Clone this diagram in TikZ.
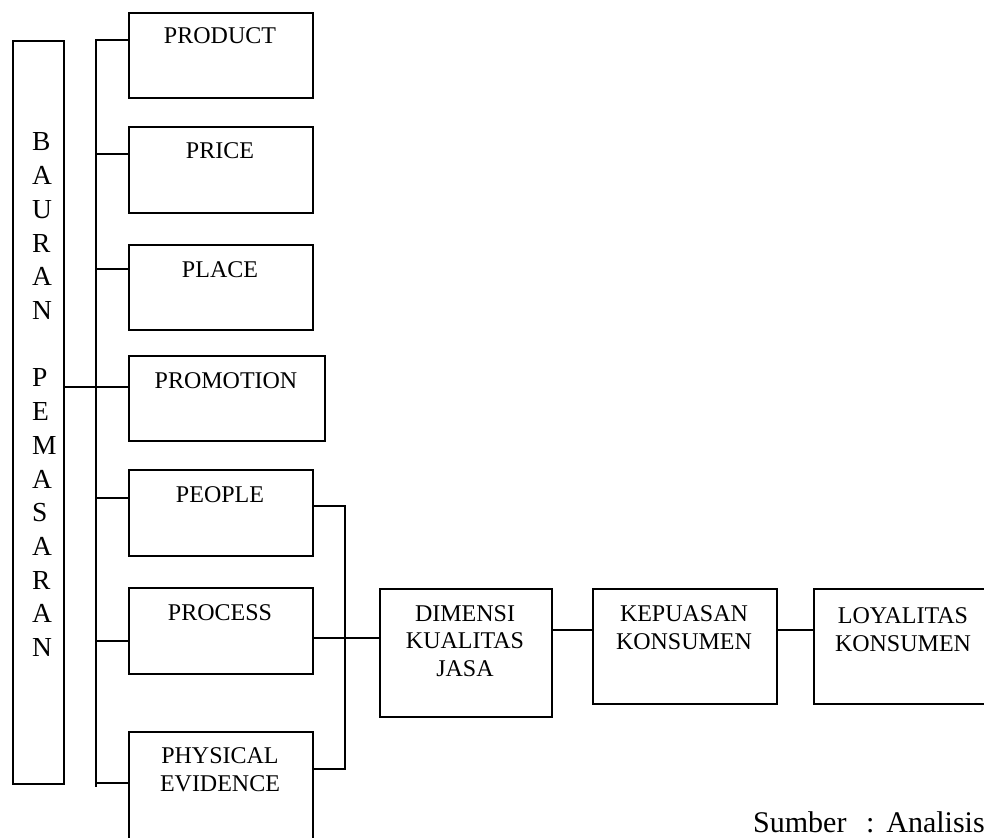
\documentclass[tikz,border=0pt]{standalone}
\usepackage{fontspec}
\setmainfont{Liberation Serif}
\tikzset{
  box/.style={draw, line width=1.7pt, inner sep=0pt, anchor=north west},
  lab/.style={font=\fontsize{24}{27.5}\selectfont, inner sep=0pt, align=center, anchor=base},
  vlet/.style={font=\fontsize{27.5}{30}\selectfont, inner sep=0pt, anchor=base west},
  conn/.style={line width=1.7pt},
}
\begin{document}
\begin{tikzpicture}[x=1pt,y=-1pt]
\useasboundingbox (0,0) rectangle (984,837);
\clip (0,0) rectangle (984,837);
% boxes
\node[box, minimum width=51pt,  minimum height=743pt] (baur) at (12,40) {};
\node[box, minimum width=184pt, minimum height=85pt]  (product) at (128,12) {};
\node[box, minimum width=184pt, minimum height=86pt]  (price) at (128,126) {};
\node[box, minimum width=184pt, minimum height=85pt]  (place) at (128,244) {};
\node[box, minimum width=196pt, minimum height=85pt]  (promotion) at (128,355) {};
\node[box, minimum width=184pt, minimum height=86pt]  (people) at (128,469) {};
\node[box, minimum width=184pt, minimum height=86pt]  (process) at (128,587) {};
\node[box, minimum width=184pt, minimum height=120pt] (physical) at (128,731) {};
\node[box, minimum width=172pt, minimum height=128pt] (dimensi) at (379,588) {};
\node[box, minimum width=184pt, minimum height=115pt] (kepuasan) at (592,588) {};
\node[box, minimum width=184pt, minimum height=115pt] (loyalitas) at (813,588) {};
% texts (multi-line nodes: base = last line)
\node[lab] (tproduct) at (220,44) {PRODUCT};
\node[lab] (tprice) at (220,159) {PRICE};
\node[lab] (tplace) at (220,277) {PLACE};
\node[lab] (tpromotion) at (226,388) {PROMOTION};
\node[lab] (tpeople) at (220,502) {PEOPLE};
\node[lab] (tprocess) at (220,620) {PROCESS};
\node[lab] (tphysical) at (220,791) {PHYSICAL\\EVIDENCE};
\node[lab] (tdimensi) at (465,676) {DIMENSI\\KUALITAS\\JASA};
\node[lab] (tkepuasan) at (684,649) {KEPUASAN\\KONSUMEN};
\node[lab] (tloyalitas) at (903,651) {LOYALITAS\\KONSUMEN};
\foreach \ch/\n in {B/0,A/1,U/2,R/3,A/4,N/5,P/7,E/8,M/9,A/10,S/11,A/12,R/13,A/14,N/15}
  \node[vlet] (v\n) at (32,{151+33.7*\n}) {\ch};
\node[font=\fontsize{30}{34}\selectfont, inner sep=0pt, anchor=base west] (sumber) at (753,832)
  {Sumber\hspace{19.5pt}:\hspace{12pt}Analisis};
% bus coordinates
\coordinate (b1) at (96,40);
\coordinate (b2) at (96,154);
\coordinate (b3) at (96,269);
\coordinate (b4) at (96,387);
\coordinate (b5) at (96,498);
\coordinate (b6) at (96,641);
\coordinate (b7) at (96,783);
\coordinate (bend) at (96,787);
\draw[conn] (b1 -| product.west) -- (b1) -- (bend);
\draw[conn] (b2) -- (b2 -| price.west);
\draw[conn] (b3) -- (b3 -| place.west);
\draw[conn] (b4 -| baur.east) -- (b4 -| promotion.west);
\draw[conn] (b5) -- (b5 -| people.west);
\draw[conn] (b6) -- (b6 -| process.west);
\draw[conn] (b7) -- (b7 -| physical.west);
% right side
\coordinate (r1) at (345,506);
\coordinate (r2) at (345,769);
\coordinate (r3) at (345,638);
\coordinate (r4) at (0,630);
\draw[conn] (r1 -| people.east) -- (r1) -- (r2) -- (r2 -| physical.east);
\draw[conn] (r3 -| process.east) -- (r3 -| dimensi.west);
\draw[conn] (r4 -| dimensi.east) -- (r4 -| kepuasan.west);
\draw[conn] (r4 -| kepuasan.east) -- (r4 -| loyalitas.west);
\end{tikzpicture}
\end{document}
